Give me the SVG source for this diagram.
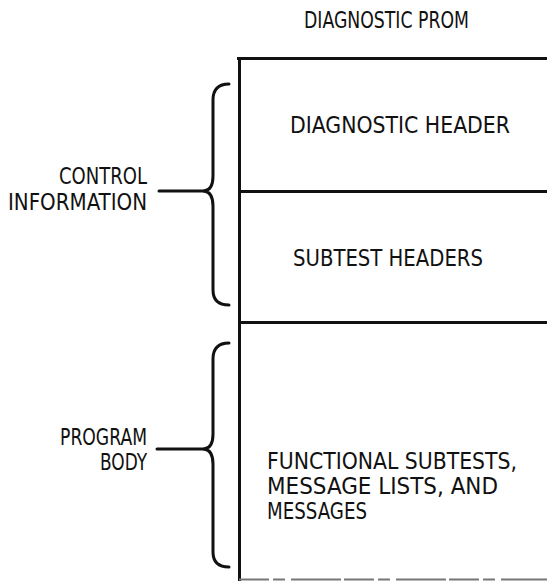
<svg xmlns="http://www.w3.org/2000/svg" width="547" height="581" viewBox="0 0 547 581">
  <style>
    .lbl { font-family: "DejaVu Sans Condensed", "DejaVu Sans", sans-serif; font-size: 23px; fill: #111; }
    .end { text-anchor: end; }
    .rule { stroke: #111; stroke-width: 3; fill: none; }
    .brace { stroke: #111; stroke-width: 3; fill: none; stroke-linecap: round; stroke-linejoin: round; }
  </style>
  <rect width="547" height="581" fill="#fff"/>

  <text class="lbl" x="304" y="28" textLength="165" lengthAdjust="spacingAndGlyphs">DIAGNOSTIC PROM</text>

  <!-- PROM memory map -->
  <g id="prom">
    <path class="rule" d="M237,58.5 H547"/>
    <path class="rule" d="M239.5,57 V581" stroke-width="4"/>
    <path d="M239,579.5 H547" stroke="#777" stroke-width="2" stroke-dasharray="30 4 12 6 50 3"/>
  </g>

  <g id="diagnostic-header">
    <text class="lbl" x="290" y="133" textLength="220" lengthAdjust="spacingAndGlyphs">DIAGNOSTIC HEADER</text>
  </g>

  <g id="subtest-headers">
    <path class="rule" d="M239,191.5 H547"/>
    <text class="lbl" x="293" y="266" textLength="190" lengthAdjust="spacingAndGlyphs">SUBTEST HEADERS</text>
  </g>

  <g id="program-area">
    <path class="rule" d="M239,322.5 H547"/>
    <text class="lbl" x="267" y="469" textLength="250" lengthAdjust="spacingAndGlyphs">FUNCTIONAL SUBTESTS,</text>
    <text class="lbl" x="267" y="494" textLength="231" lengthAdjust="spacingAndGlyphs">MESSAGE LISTS, AND</text>
    <text class="lbl" x="267" y="519" textLength="100" lengthAdjust="spacingAndGlyphs">MESSAGES</text>
  </g>

  <g id="control-information">
    <text class="lbl end" x="147" y="184" textLength="88" lengthAdjust="spacingAndGlyphs">CONTROL</text>
    <text class="lbl end" x="147" y="210" textLength="139" lengthAdjust="spacingAndGlyphs">INFORMATION</text>
  </g>

  <g id="program-body">
    <text class="lbl end" x="147" y="445" textLength="87" lengthAdjust="spacingAndGlyphs">PROGRAM</text>
    <text class="lbl end" x="147" y="470" textLength="47" lengthAdjust="spacingAndGlyphs">BODY</text>
  </g>

  <!-- braces tying labels to regions -->
  <g id="connectors">
    <path class="brace" d="M229,84 Q213,84 213,100 L213,176 Q213,190 204,191 Q213,192 213,206 L213,290 Q213,305 229,305"/>
    <path class="brace" d="M159,191 H205"/>
    <path class="brace" d="M229,343 Q213,343 213,359 L213,434 Q213,448 204,449 Q213,450 213,464 L213,552 Q213,567 229,567"/>
    <path class="brace" d="M157,449 H205"/>
  </g>
</svg>
